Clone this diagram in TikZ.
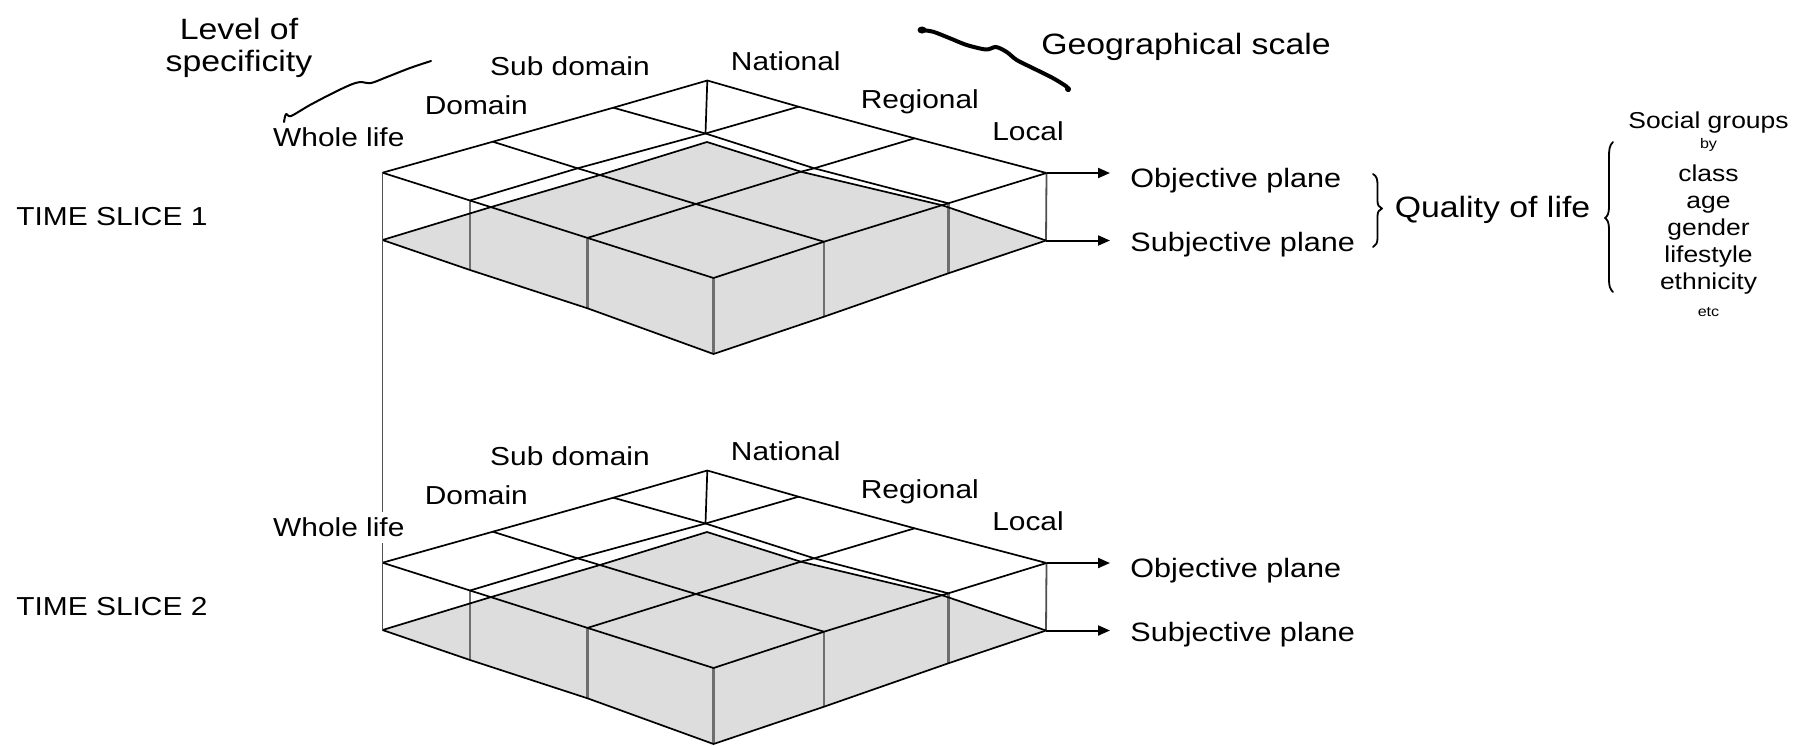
\documentclass[tikz,border=0pt]{standalone}
\usepackage{fontspec}
\setmainfont{Liberation Sans}[FakeStretch=1.15]
\usetikzlibrary{arrows.meta}
\definecolor{blockgray}{RGB}{221,221,221}
\definecolor{edgegray}{RGB}{110,110,110}
\definecolor{boxgray}{RGB}{80,80,80}
\tikzset{
  gridline/.style={line width=0.85pt, line join=round, draw=black},
  post/.style={line width=1.4pt, draw=edgegray},
  boxedge/.style={line width=0.9pt, draw=boxgray},
  lbl/.style={inner sep=0pt, anchor=base, font=\fontsize{13}{15}\selectfont},
  biglbl/.style={inner sep=0pt, anchor=base, font=\fontsize{14.7}{17}\selectfont},
  planelbl/.style={inner sep=0pt, anchor=base west, font=\fontsize{13.3}{15}\selectfont},
  grplbl/.style={inner sep=0pt, anchor=base, font=\fontsize{11.5}{13}\selectfont},
  tinylbl/.style={inner sep=0pt, anchor=base, font=\fontsize{7}{8}\selectfont},
  arr/.style={line width=1pt, -{Triangle[length=6pt,width=5pt]}, shorten >=10pt},
  handstroke/.style={line width=1pt, line cap=round, line join=round},
  brushstroke/.style={line width=2pt, line cap=round, line join=round},
  bracestroke/.style={line width=0.9pt, line cap=round, line join=round}
}
\begin{document}
\begin{tikzpicture}[x=0.5pt,y=-0.5pt]
\useasboundingbox (0,0) rectangle (1804,745);
\fill[white] (0,0) rectangle (1804,745);

% ---------- the two slabs ----------
\foreach \s/\dy in {a/0,b/390}{
\begin{scope}[shift={(0,\dy)}]
  % upper plane
  \coordinate (B1\s)  at (707.3,80.5);
  \coordinate (U10\s) at (613.3,107.7);
  \coordinate (U20\s) at (492.8,141.7);
  \coordinate (L1\s)  at (382.5,172.7);
  \coordinate (U01\s) at (798.6,106.7);
  \coordinate (U02\s) at (914.6,138.3);
  \coordinate (R1\s)  at (1046.5,173);
  \coordinate (U11\s) at (705.5,133.5);
  \coordinate (U21\s) at (577.6,168.3);
  \coordinate (U31\s) at (470,200.5);
  \coordinate (U12\s) at (814.2,168.3);
  \coordinate (U13\s) at (948.3,203.3);
  % gray block tops
  \coordinate (G11\s) at (707,142);
  \coordinate (G21\s) at (599.9,175);
  \coordinate (G31\s) at (490.8,207.1);
  \coordinate (G12\s) at (800.8,171.7);
  \coordinate (G13\s) at (942,205.2);
  \coordinate (G22\s) at (695.9,204);
  \coordinate (G32\s) at (587.5,237.9);
  \coordinate (G23\s) at (824,241.7);
  \coordinate (G33\s) at (713.5,278);
  % lower plane
  \coordinate (L0\s)  at (382.5,240);
  \coordinate (R0\s)  at (1046,240.5);
  \coordinate (P31\s) at (470,270);
  \coordinate (P32\s) at (587.5,308.3);
  \coordinate (F0\s)  at (713.5,354);
  \coordinate (P23\s) at (824,316.7);
  \coordinate (P13\s) at (948.3,273.3);

  \fill[blockgray] (L0\s) -- (G31\s) -- (G21\s) -- (G11\s) -- (G12\s) -- (G13\s)
     -- (R0\s) -- (P13\s) -- (P23\s) -- (F0\s) -- (P32\s) -- (P31\s) -- cycle;

  \draw[post] (U31\s) -- (P31\s);
  \draw[post] (G32\s) -- (P32\s);
  \draw[post] (G33\s) -- (F0\s);
  \draw[post] (G23\s) -- (P23\s);
  \draw[post] (U13\s) -- (P13\s);
  \draw[boxedge] (R1\s) -- (R0\s);

  \draw[gridline] (L1\s) -- (U20\s) -- (U10\s) -- (B1\s) -- (U01\s) -- (U02\s) -- (R1\s);
  \draw[gridline] (L1\s) -- (U31\s) -- (G31\s) -- (G32\s) -- (G33\s) -- (G23\s) -- (G13\s) -- (U13\s) -- (R1\s);
  \draw[gridline] (U10\s) -- (U11\s) -- (U12\s) -- (U13\s);
  \draw[gridline] (U01\s) -- (U11\s) -- (U21\s) -- (U31\s);
  \draw[gridline] (U20\s) -- (U21\s) -- (G21\s) -- (G22\s) -- (G23\s);
  \draw[gridline] (U02\s) -- (U12\s) -- (G12\s) -- (G22\s) -- (G32\s);
  \draw[gridline] (L0\s) -- (G31\s) -- (G21\s) -- (G11\s) -- (G12\s) -- (G13\s) -- (R0\s);
  \draw[gridline] (L0\s) -- (P31\s) -- (P32\s) -- (F0\s) -- (P23\s) -- (P13\s) -- (R0\s);
  \draw[gridline] (B1\s) -- (U11\s);
\end{scope}
}

% long left edge joining the two slabs
\draw[boxedge] (L1a) -- (L0b);

% ---------- labels of each slab ----------
\foreach \s/\dy/\n in {a/0/1,b/390/2}{
\begin{scope}[shift={(0,\dy)}]
  \node[lbl] (sub\s) at (570,75.5) {Sub domain};
  \node[lbl] (nat\s) at (785.8,70.5) {National};
  \node[lbl] (dom\s) at (476.3,114) {Domain};
  \node[lbl] (reg\s) at (919.8,108.8) {Regional};
  \node[lbl] (loc\s) at (1028,140.5) {Local};
  \node[lbl, fill=white, inner sep=3pt] (whl\s) at (338.8,146.5) {Whole life};
  \node[lbl, anchor=base west] (time\s) at (16,225.5) {TIME SLICE \n};
  \node[planelbl] (obj\s) at (1130,187) {Objective plane};
  \node[planelbl] (subj\s) at (1130,251.5) {Subjective plane};
  \draw[arr] (R1\s) -- (R1\s -| obj\s.west);
  \draw[arr] (R0\s) -- (R0\s -| subj\s.west);
\end{scope}
}

% ---------- top annotations ----------
\node[biglbl] (lev1) at (239,39) {Level of};
\node[biglbl] (lev2) at (239,71.7) {specificity};
\node[biglbl] (geo) at (1186,54) {Geographical scale};

\draw[handstroke] plot[smooth, tension=0.5] coordinates {(284,122) (286,114) (291,116) (310,105) (333,93) (350,85) (360,82) (371,83) (387,77) (410,68) (431,61)};
\draw[brushstroke] plot[smooth, tension=0.5] coordinates {(921,30) (933,31.7) (950,38.3) (966.7,45) (986,49.5) (996,47) (1006.7,52) (1016.7,60) (1033.3,68.3) (1053.3,78.3) (1066.7,86.7) (1068.5,90)};
\fill (922,30) ellipse (4.5 and 3.5);
\fill (1068,89) circle (3);

% ---------- quality of life ----------
\draw[bracestroke] (1373,174) .. controls (1377,176) and (1377.5,180) .. (1377.5,186)
   -- (1377.5,201) .. controls (1377.5,205) and (1379,207.5) .. (1382,208.5)
   .. controls (1379,209.5) and (1377.5,212) .. (1377.5,216)
   -- (1377.5,238) .. controls (1377.5,243) and (1376,245.5) .. (1373,247);
\node[biglbl, anchor=base west] (qol) at (1394.4,217.5) {Quality of life};

\draw[bracestroke] (1613,142) .. controls (1609.5,145) and (1609,150) .. (1609,156)
   -- (1609,207) .. controls (1609,213) and (1607.5,216.5) .. (1605,218)
   .. controls (1607.5,219.5) and (1609,223) .. (1609,229)
   -- (1609,280) .. controls (1609,286) and (1610,289) .. (1613,292);

\node[grplbl] (sg) at (1708.5,128.5) {Social groups};
\node[tinylbl] (by) at (1708.5,148) {by};
\node[grplbl] (g1) at (1708.5,181) {class};
\node[grplbl] (g2) at (1708.5,208) {age};
\node[grplbl] (g3) at (1708.5,235) {gender};
\node[grplbl] (g4) at (1708.5,262) {lifestyle};
\node[grplbl] (g5) at (1708.5,289) {ethnicity};
\node[tinylbl] (g6) at (1708.5,316) {etc};
\end{tikzpicture}
\end{document}
